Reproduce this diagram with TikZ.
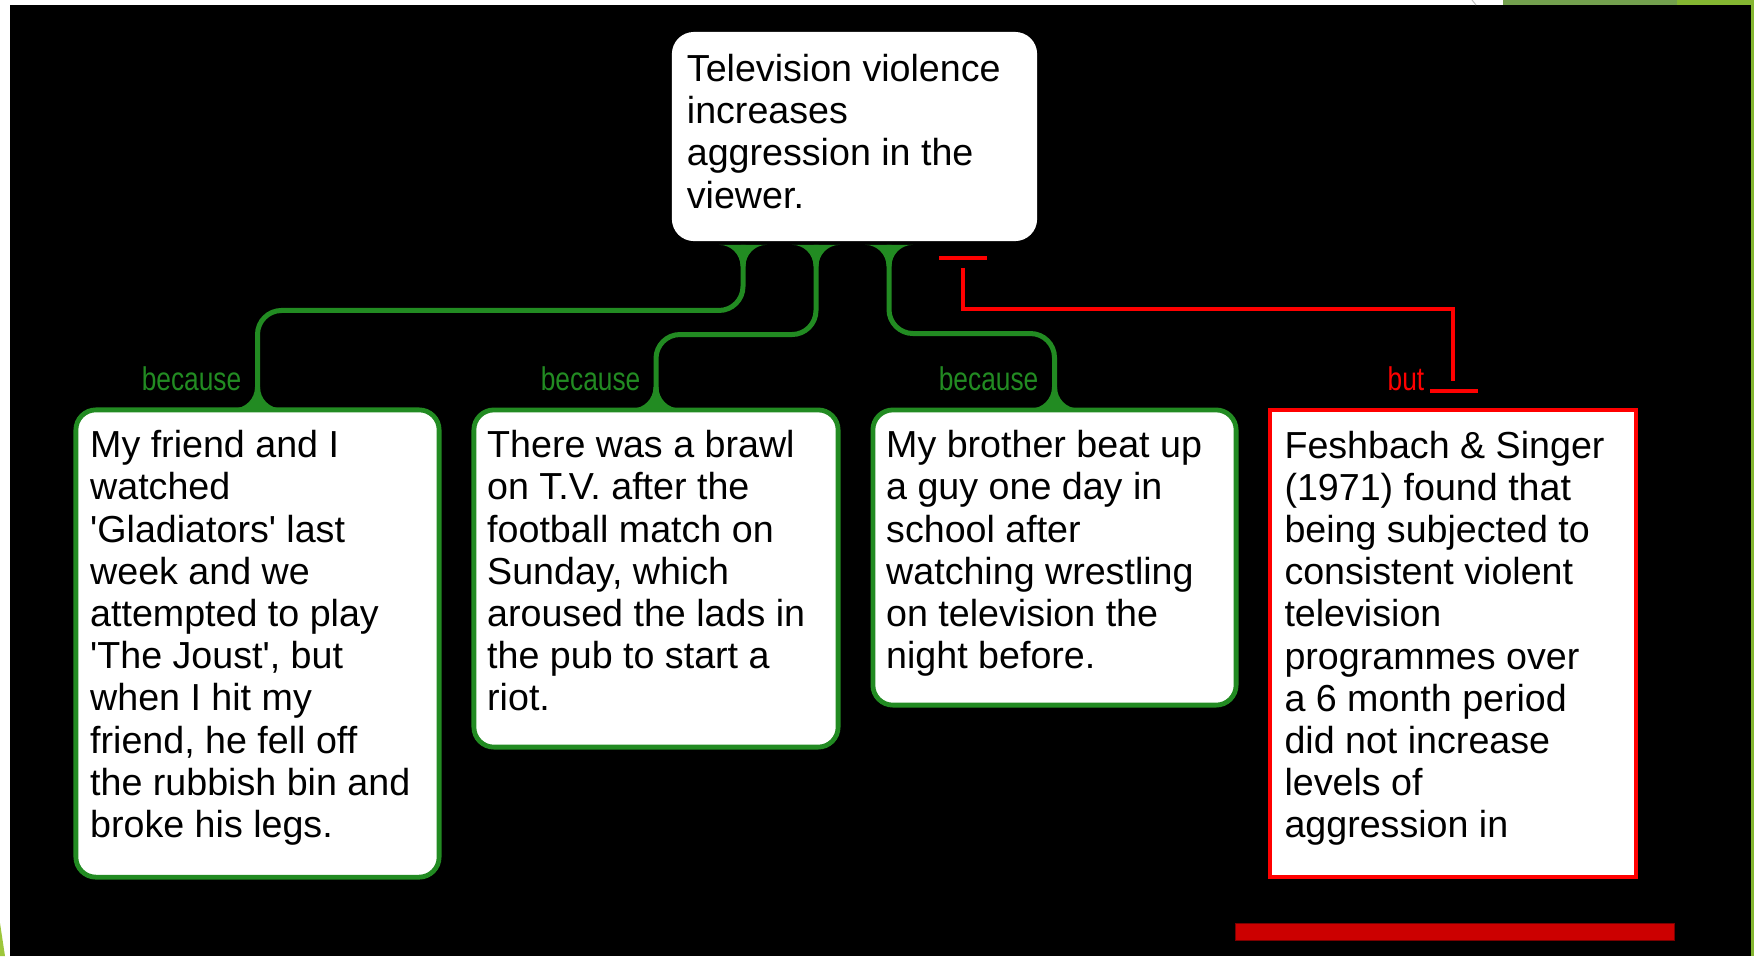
\documentclass[tikz,border=0pt]{standalone}
\usepackage{fontspec}
\setmainfont{Liberation Sans}
\newfontfamily\narrowsans[FakeStretch=0.8]{Liberation Sans}
\usetikzlibrary{calc}
\definecolor{argreen}{HTML}{228B22}
\definecolor{objred}{HTML}{FF0000}
\definecolor{barred}{HTML}{CC0000}
\definecolor{barrim}{HTML}{7A0000}
\definecolor{themegreen}{HTML}{84B631}
\definecolor{themegreendk}{HTML}{73A04E}
\definecolor{themegreenlt}{HTML}{9DC63B}

\begin{document}
\begin{tikzpicture}[x=0.01cm,y=-0.01cm,
  claimbox/.style={fill=white, rounded corners=0.22cm, inner sep=0pt},
  probox/.style={draw=argreen, fill=white, rounded corners=0.2cm, line width=0.048cm, inner sep=0pt},
  conbox/.style={draw=objred, fill=white, line width=0.042cm, inner sep=0pt},
  txt/.style={anchor=north west, inner sep=0pt, align=left, font=\fontsize{10.7}{12}\selectfont},
  gline/.style={draw=argreen, line width=0.05cm, rounded corners=0.24cm},
  rline/.style={draw=objred, line width=0.042cm},
  glabel/.style={text=argreen, inner sep=0pt, anchor=base east, font=\narrowsans\fontsize{9.35}{11}\selectfont},
  rlabel/.style={glabel, text=objred},
]
\useasboundingbox (0,0) rectangle (1754,956);

% slide background and theme trim
\fill[white] (0,0) rectangle (1754,956);
\fill[black] (10,5) rectangle (1751,956);
\fill[themegreendk] (1503,0) rectangle (1677,5);
\fill[themegreen] (1677,0) rectangle (1754,5);
\fill[themegreen] (1751,0) rectangle (1754,956);
\fill[themegreenlt] (0,923) -- (5,956) -- (0,956) -- cycle;
\draw[gray!50, line width=0.01cm] (1472,0) -- (1476,5);

% claim
\node[claimbox, minimum width=3.65cm, minimum height=2.09cm] (claim) at (854.5,136.5) {};
\node[txt] (claimtxt) at ($(claim.north west)+(15,20)$)
  {\strut Television violence\\increases\\aggression in the\\viewer.};

% reasons
\node[probox, minimum width=3.63cm, minimum height=4.67cm] (r1) at (257.5,643.5) {};
\node[probox, minimum width=3.64cm, minimum height=3.37cm] (r2) at (656,578.5) {};
\node[probox, minimum width=3.63cm, minimum height=2.95cm] (r3) at (1054.5,557.5) {};
% objection
\node[conbox, minimum width=3.66cm, minimum height=4.67cm] (c1) at (1453,643.5) {};

\node[txt] (r1txt) at ($(r1.north west)+(16,20)$)
  {\strut My friend and I\\watched\\\textquotesingle Gladiators\textquotesingle\ last\\week and we\\attempted to play\\\textquotesingle The Joust\textquotesingle, but\\when I hit my\\friend, he fell off\\the rubbish bin and\\broke his legs.};
\node[txt] (r2txt) at ($(r2.north west)+(15,20)$)
  {\strut There was a brawl\\on T.V. after the\\football match on\\Sunday, which\\aroused the lads in\\the pub to start a\\riot.};
\node[txt] (r3txt) at ($(r3.north west)+(15,20)$)
  {\strut My brother beat up\\a guy one day in\\school after\\watching wrestling\\on television the\\night before.};
\node[txt] (c1txt) at ($(c1.north west)+(16,20)$)
  {\strut Feshbach \& Singer\\(1971) found that\\being subjected to\\consistent violent\\television\\programmes over\\a 6 month period\\did not increase\\levels of\\aggression in};

% connector attachment points under the claim
\coordinate (s1) at ($(claim.south)+(-111.5,3)$);
\coordinate (s2) at ($(claim.south)+(-38.5,3)$);
\coordinate (s3) at ($(claim.south)+(34.5,3)$);
\coordinate (s4) at ($(claim.south)+(108.5,16)$);

% supporting links
\draw[gline] (s1) |- ($(r1.north)+(0,-97)$) -- (r1.north);
\draw[gline] (s2) |- ($(r2.north)+(0,-73)$) -- (r2.north);
\draw[gline] (s3) |- ($(r3.north)+(0,-74)$) -- (r3.north);
% flared joints (round fillets) at both ends of each link
\foreach \p in {s1,s2,s3}
  \fill[argreen, shift={(\p)}] (-24,0) -- (24,0)
    .. controls (12,0) and (2.5,9.6) .. (2.5,21.5)
    -- (-2.5,21.5) .. controls (-2.5,9.6) and (-12,0) .. (-24,0) -- cycle;
\foreach \p in {r1,r2,r3}
  \fill[argreen, shift={(\p.north)}] (-24,1)
    .. controls (-12,1) and (-2.5,-8.6) .. (-2.5,-20.5)
    -- (2.5,-20.5) .. controls (2.5,-8.6) and (12,1) .. (24,1) -- cycle;

% opposing link
\draw[rline] ($(s4)+(-24,0)$) -- ($(s4)+(24,0)$);
\draw[rline] ($(s4)+(0,10)$) |- ($(c1.north)+(0,-99)$) -- ($(c1.north)+(0,-27)$);
\draw[rline] ($(c1.north)+(-23,-17)$) -- ($(c1.north)+(25,-17)$);

% link labels
\node[glabel] (w1) at ($(r1.north)+(-15.5,-17)$) {because};
\node[glabel] (w2) at ($(r2.north)+(-15,-17)$) {because};
\node[glabel] (w3) at ($(r3.north)+(-15.5,-17)$) {because};
\node[rlabel] (w4) at ($(c1.north)+(-28,-17)$) {but};

% bar under the objection
\draw[barrim, fill=barred, line width=0.008cm] (1235,923) rectangle (1674,940);
\end{tikzpicture}
\end{document}
